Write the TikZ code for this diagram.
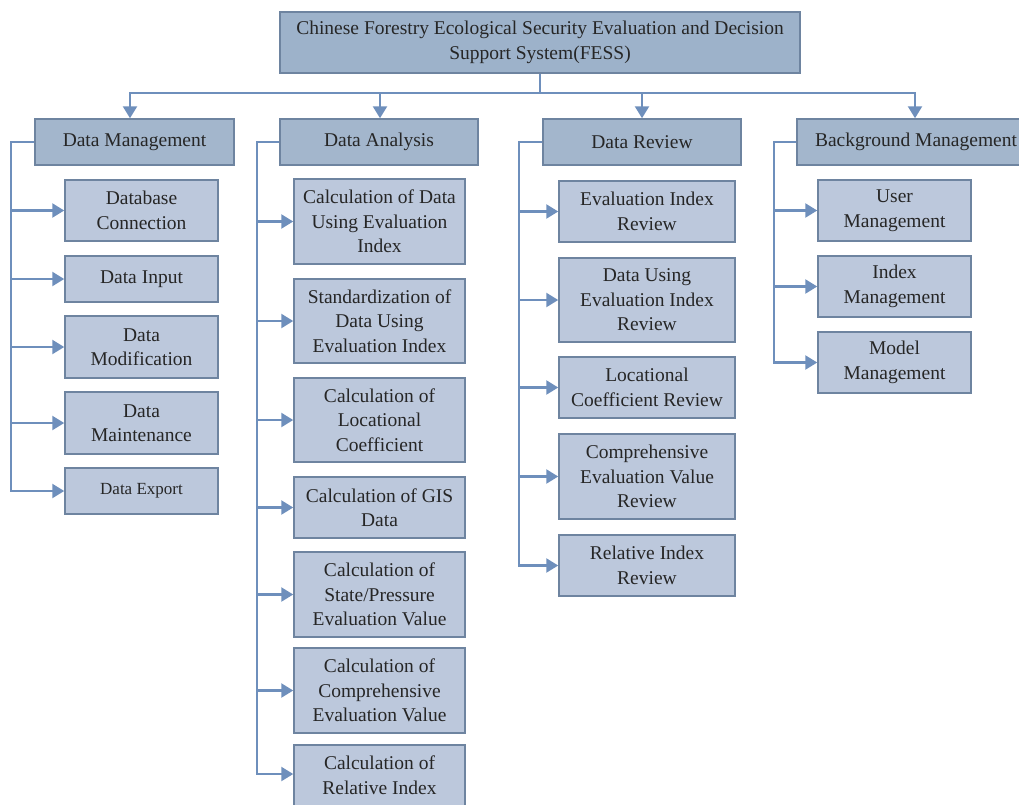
\documentclass[tikz,border=0pt]{standalone}
\usepackage{fontspec}
\setmainfont{Liberation Serif}
\usepackage{tikz}
\usetikzlibrary{arrows.meta}
\definecolor{topfill}{HTML}{9DB2CA}
\definecolor{headfill}{HTML}{A3B6CC}
\definecolor{itemfill}{HTML}{BCC8DC}
\definecolor{boxline}{HTML}{6E84A0}
\definecolor{linkline}{HTML}{6E8FBC}

\begin{document}
\begin{tikzpicture}[x=1pt, y=-1pt,
			box/.style={
				draw = boxline,
				line width = 1.5pt,
				inner sep = 1pt,
				align = center,
				font = \fontsize{19.5}{24.5}\selectfont,
				text = black!85},
			top/.style={box, fill=topfill, minimum width=520pt, minimum height=61pt},
			head/.style={box, fill=headfill, minimum height=46pt},
			item/.style={box, fill=itemfill},
			link/.style={
				draw = linkline,
				line width = 2.4pt,
				-{Triangle[length=12pt, width=14pt]}}]
			\useasboundingbox (0, 0) rectangle (1019, 804);
			% system
			\node (fess) at (540, 42.5) [top] {Chinese Forestry Ecological Security Evaluation and Decision\\Support System(FESS)};
			% modules
			\node (dm) at (134.5, 142) [head, minimum width=199pt] {Data Management};
			\node (da) at (379, 142) [head, minimum width=198pt] {Data Analysis};
			\node (dr) at (642, 142) [head, minimum width=198pt] {Data Review};
			\node (bm) at (916, 142) [head, minimum width=238pt] {Background Management};
			% data management
			\node (dbc) at (141.5, 210.5) [item, minimum width=153pt, minimum height=61pt] {Database\\Connection};
			\node (din) at (141.5, 279) [item, minimum width=153pt, minimum height=46pt] {Data Input};
			\node (dmo) at (141.5, 347) [item, minimum width=153pt, minimum height=62pt] {Data\\Modification};
			\node (dma) at (141.5, 423) [item, minimum width=153pt, minimum height=62pt] {Data\\Maintenance};
			\node (dex) at (141.5, 491) [item, minimum width=153pt, minimum height=46pt, font=\fontsize{17}{20}\selectfont] {Data Export};
			% data analysis
			\node (cdi) at (379.5, 221.5) [item, minimum width=171pt, minimum height=85pt] {Calculation of Data\\Using Evaluation\\Index};
			\node (sdi) at (379.5, 321) [item, minimum width=171pt, minimum height=84pt] {Standardization of\\Data Using\\Evaluation Index};
			\node (clc) at (379.5, 420) [item, minimum width=171pt, minimum height=84pt] {Calculation of\\Locational\\Coefficient};
			\node (cgd) at (379.5, 507.5) [item, minimum width=171pt, minimum height=61pt] {Calculation of GIS\\Data};
			\node (csp) at (379.5, 594.5) [item, minimum width=171pt, minimum height=85pt] {Calculation of\\State/Pressure\\Evaluation Value};
			\node (cce) at (379.5, 690.5) [item, minimum width=171pt, minimum height=85pt] {Calculation of\\Comprehensive\\Evaluation Value};
			\node (cri) at (379.5, 787.5) [item, minimum width=171pt, minimum height=85pt] {Calculation of\\Relative Index\\\phantom{X}};
			% data review
			\node (eir) at (647, 211.5) [item, minimum width=176pt, minimum height=61pt] {Evaluation Index\\Review};
			\node (der) at (647, 300) [item, minimum width=176pt, minimum height=84pt] {Data Using\\Evaluation Index\\Review};
			\node (lcr) at (647, 387.5) [item, minimum width=176pt, minimum height=61pt] {Locational\\Coefficient Review};
			\node (cer) at (647, 476.5) [item, minimum width=176pt, minimum height=85pt] {Comprehensive\\Evaluation Value\\Review};
			\node (rir) at (647, 565.5) [item, minimum width=176pt, minimum height=61pt] {Relative Index\\Review};
			% background management
			\node (um) at (894.5, 210.5) [item, minimum width=153pt, minimum height=61pt] {User\\Management};
			\node (im) at (894.5, 286.5) [item, minimum width=153pt, minimum height=61pt] {Index\\Management};
			\node (mm) at (894.5, 362.5) [item, minimum width=153pt, minimum height=61pt] {Model\\Management};
			% connectors
			\foreach \m/\x in {dm/130, da/380, dr/642, bm/915}
				\draw[link] (fess.south) -- ++(0, 19) -| (\x, 0 |- \m.north);
			\foreach \c in {dbc, din, dmo, dma, dex}
				\draw[link] (dm.west) -- ++(-23, 0) |- (\c.west);
			\foreach \c in {cdi, sdi, clc, cgd, csp, cce}
				\draw[link] (da.west) -- ++(-22, 0) |- (\c.west);
			\draw[link] (da.west) -- ++(-22, 0) |- (cri.west |- 0, 774);
			\foreach \c in {eir, der, lcr, cer, rir}
				\draw[link] (dr.west) -- ++(-23, 0) |- (\c.west);
			\foreach \c in {um, im, mm}
				\draw[link] (bm.west) -- ++(-22, 0) |- (\c.west);
			\end{tikzpicture}
\end{document}
